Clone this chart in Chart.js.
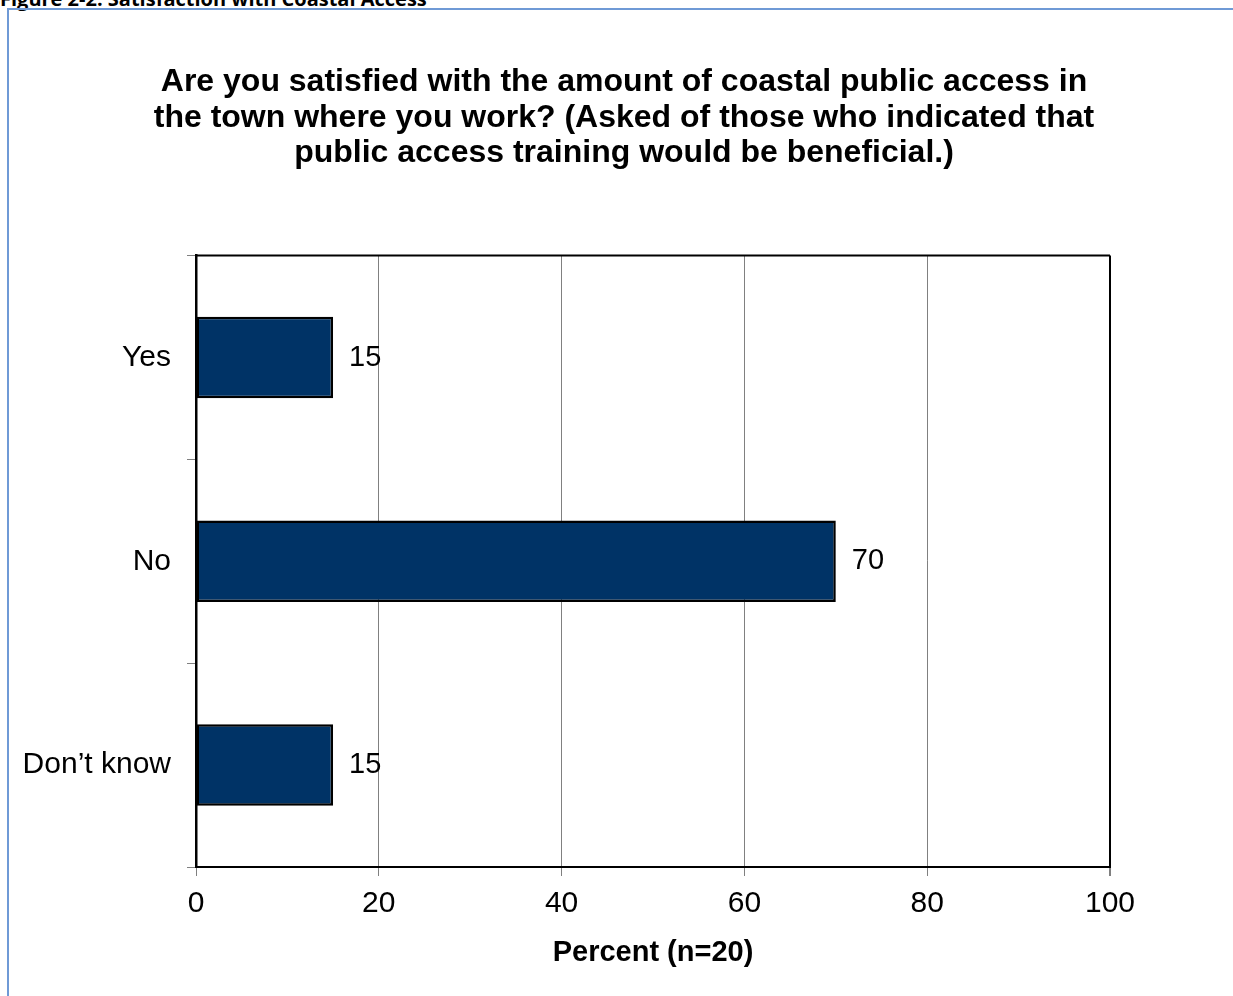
<!DOCTYPE html>
<html>
<head>
    <title>Satisfaction with Coastal Access</title>
    <script src="https://cdn.jsdelivr.net/npm/chart.js"></script>
    <style>
        body { margin: 0; background: #fff; width: 1233px; height: 996px; overflow: hidden; position: relative; font-family: "Liberation Sans", Arial, sans-serif; }
        #caption { position: absolute; left: 0; top: -15px; font: bold 20px "Open Sans", sans-serif; color: #000; white-space: nowrap; }
        #frame { position: absolute; left: 7px; top: 8px; width: 1300px; height: 1100px; border-left: 2px solid #6f9ad6; border-top: 2px solid #6f9ad6; }
        #chart { position: absolute; left: 0; top: 0; }
    </style>
</head>
<body>
    <div id="caption">Figure 2-2: Satisfaction with Coastal Access</div>
    <div id="frame"></div>
    <canvas id="chart" width="1233" height="996"></canvas>

    <script>
        const categories = ["Yes", "No", "Don\u2019t know"];
        const percents = [15, 70, 15];
        const xTicks = [0, 20, 40, 60, 80, 100];
        const titleLines = [
            "Are you satisfied with the amount of coastal public access in",
            "the town where you work? (Asked of those who indicated that",
            "public access training would be beneficial.)"
        ];

        const font = "'Liberation Sans', Arial, sans-serif";

        // value labels at the end of each bar, plus the top edge of the plot box
        const extras = {
            id: "extras",
            afterDatasetsDraw(chart) {
                const ctx = chart.ctx;
                const area = chart.chartArea;
                ctx.save();
                ctx.strokeStyle = "#000";
                ctx.lineWidth = 2;
                ctx.beginPath();
                ctx.moveTo(area.left, area.top);
                ctx.lineTo(area.right, area.top);
                ctx.stroke();

                ctx.fillStyle = "#000";
                ctx.font = "29px " + font;
                ctx.textAlign = "left";
                ctx.textBaseline = "middle";
                chart.getDatasetMeta(0).data.forEach((bar, i) => {
                    ctx.fillText(String(percents[i]), bar.x + 16, bar.y);
                });
                ctx.restore();
            }
        };

        new Chart(document.getElementById("chart"), {
            type: "bar",
            data: {
                labels: categories,
                datasets: [{
                    data: percents,
                    backgroundColor: "#003366",
                    borderColor: "#000",
                    borderWidth: 2.5,
                    borderSkipped: false,
                    barPercentage: 0.4,
                    categoryPercentage: 1
                }]
            },
            options: {
                indexAxis: "y",
                responsive: false,
                animation: false,
                layout: { padding: { top: 65, left: 15, right: 0, bottom: 0 } },
                plugins: {
                    legend: { display: false },
                    tooltip: { enabled: false },
                    title: {
                        display: true,
                        text: titleLines,
                        color: "#000",
                        font: { family: font, size: 32, weight: "bold", lineHeight: 1.1 },
                        padding: { top: 0, bottom: 85 }
                    }
                },
                scales: {
                    x: {
                        min: 0,
                        max: 100,
                        afterBuildTicks: (scale) => { scale.ticks = xTicks.map(v => ({ value: v })); },
                        afterFit: (scale) => { scale.height = 129; },
                        ticks: { color: "#000", font: { family: font, size: 30 }, padding: 10 },
                        grid: {
                            color: (c) => c.tick && c.tick.value === 100 ? "#000" : "#808080",
                            lineWidth: (c) => c.tick && c.tick.value === 100 ? 2 : 1,
                            tickColor: "#808080",
                            tickLength: 9
                        },
                        border: { color: "#000", width: 2 },
                        title: {
                            display: true,
                            text: "Percent (n=20)",
                            color: "#000",
                            font: { family: font, size: 29, weight: "bold" },
                            padding: { top: 0, bottom: 26 }
                        }
                    },
                    y: {
                        afterFit: (scale) => { scale.width = 181; },
                        ticks: { color: "#000", font: { family: font, size: 30 }, padding: 16 },
                        grid: {
                            offset: true,
                            drawOnChartArea: false,
                            tickColor: "#808080",
                            tickLength: 9
                        },
                        border: { color: "#000", width: 2.5 }
                    },
                    // empty strip on the right so the title centres like the original
                    pad: {
                        type: "linear",
                        position: "right",
                        afterFit: (scale) => { scale.width = 123; },
                        ticks: { display: false },
                        grid: { display: false },
                        border: { display: false }
                    }
                }
            },
            plugins: [extras]
        });
    </script>
</body>
</html>
